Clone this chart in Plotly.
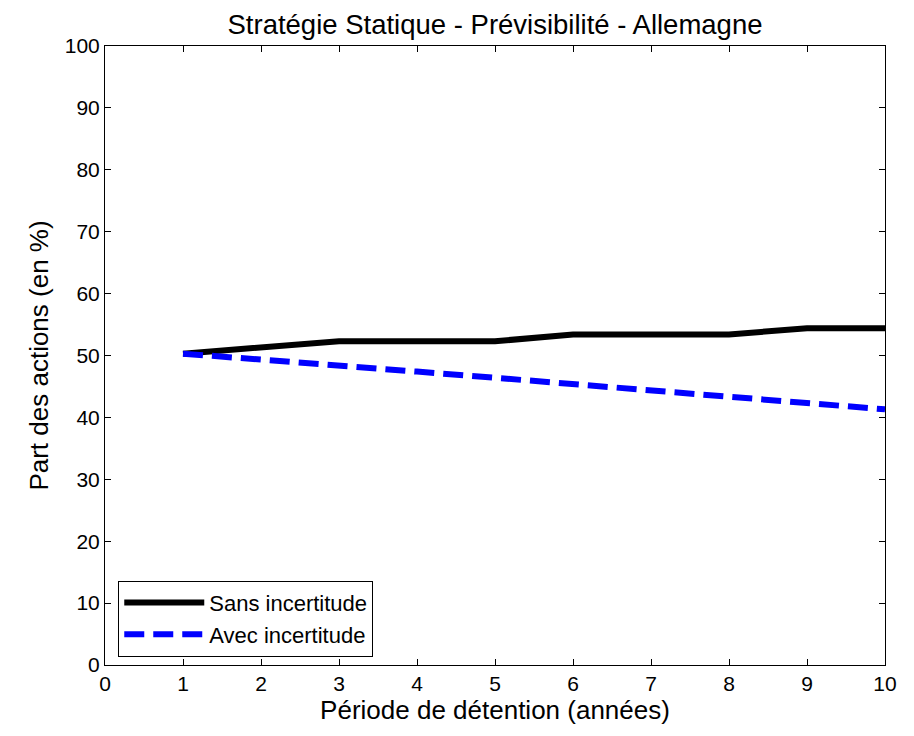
import plotly.graph_objects as go

periods = [1, 2, 3, 4, 5, 6, 7, 8, 9, 10]
sans_incertitude = [50.3, 51.4, 52.3, 52.3, 52.3, 53.4, 53.4, 53.4, 54.4, 54.4]
avec_incertitude = [50.3, 49.4, 48.4, 47.4, 46.4, 45.4, 44.3, 43.3, 42.3, 41.3]

x_ticks = list(range(0, 11))
y_ticks = list(range(0, 101, 10))

fig = go.Figure()
fig.add_trace(go.Scatter(x=periods, y=sans_incertitude, mode="lines",
                         name="Sans incertitude",
                         line=dict(color="black", width=6)))
fig.add_trace(go.Scatter(x=periods, y=avec_incertitude, mode="lines",
                         name="Avec incertitude",
                         line=dict(color="blue", width=6, dash="20px,9px")))

axis_common = dict(showgrid=False, zeroline=False, showline=True, mirror="ticks",
                   linecolor="black", linewidth=1, ticks="inside", ticklen=6,
                   tickcolor="black", tickfont=dict(size=21, color="black"))

fig.update_layout(
    width=914, height=736,
    paper_bgcolor="white", plot_bgcolor="white",
    font=dict(family="Liberation Sans, Arial, sans-serif", color="black"),
    margin=dict(l=97, r=37, t=38, b=79),
    title=dict(text="Stratégie Statique - Prévisibilité - Allemagne",
               x=0.5, xref="paper", xanchor="center", y=0.978, yanchor="middle",
               font=dict(size=27.5, color="black")),
    xaxis=dict(range=[0, 10], tickvals=x_ticks,
               title=dict(text="Période de détention (années)", font=dict(size=26), standoff=6),
               **axis_common),
    yaxis=dict(range=[0, 100], tickvals=y_ticks,
               title=dict(text="Part des actions (en %)", font=dict(size=26), standoff=8),
               **axis_common),
    legend=dict(x=0.017, y=0.136, xanchor="left", yanchor="top",
                bgcolor="white", bordercolor="black", borderwidth=1,
                itemwidth=80,
                font=dict(size=22, color="black"), tracegroupgap=0),
    showlegend=True,
)

fig.write_html("out.html")
